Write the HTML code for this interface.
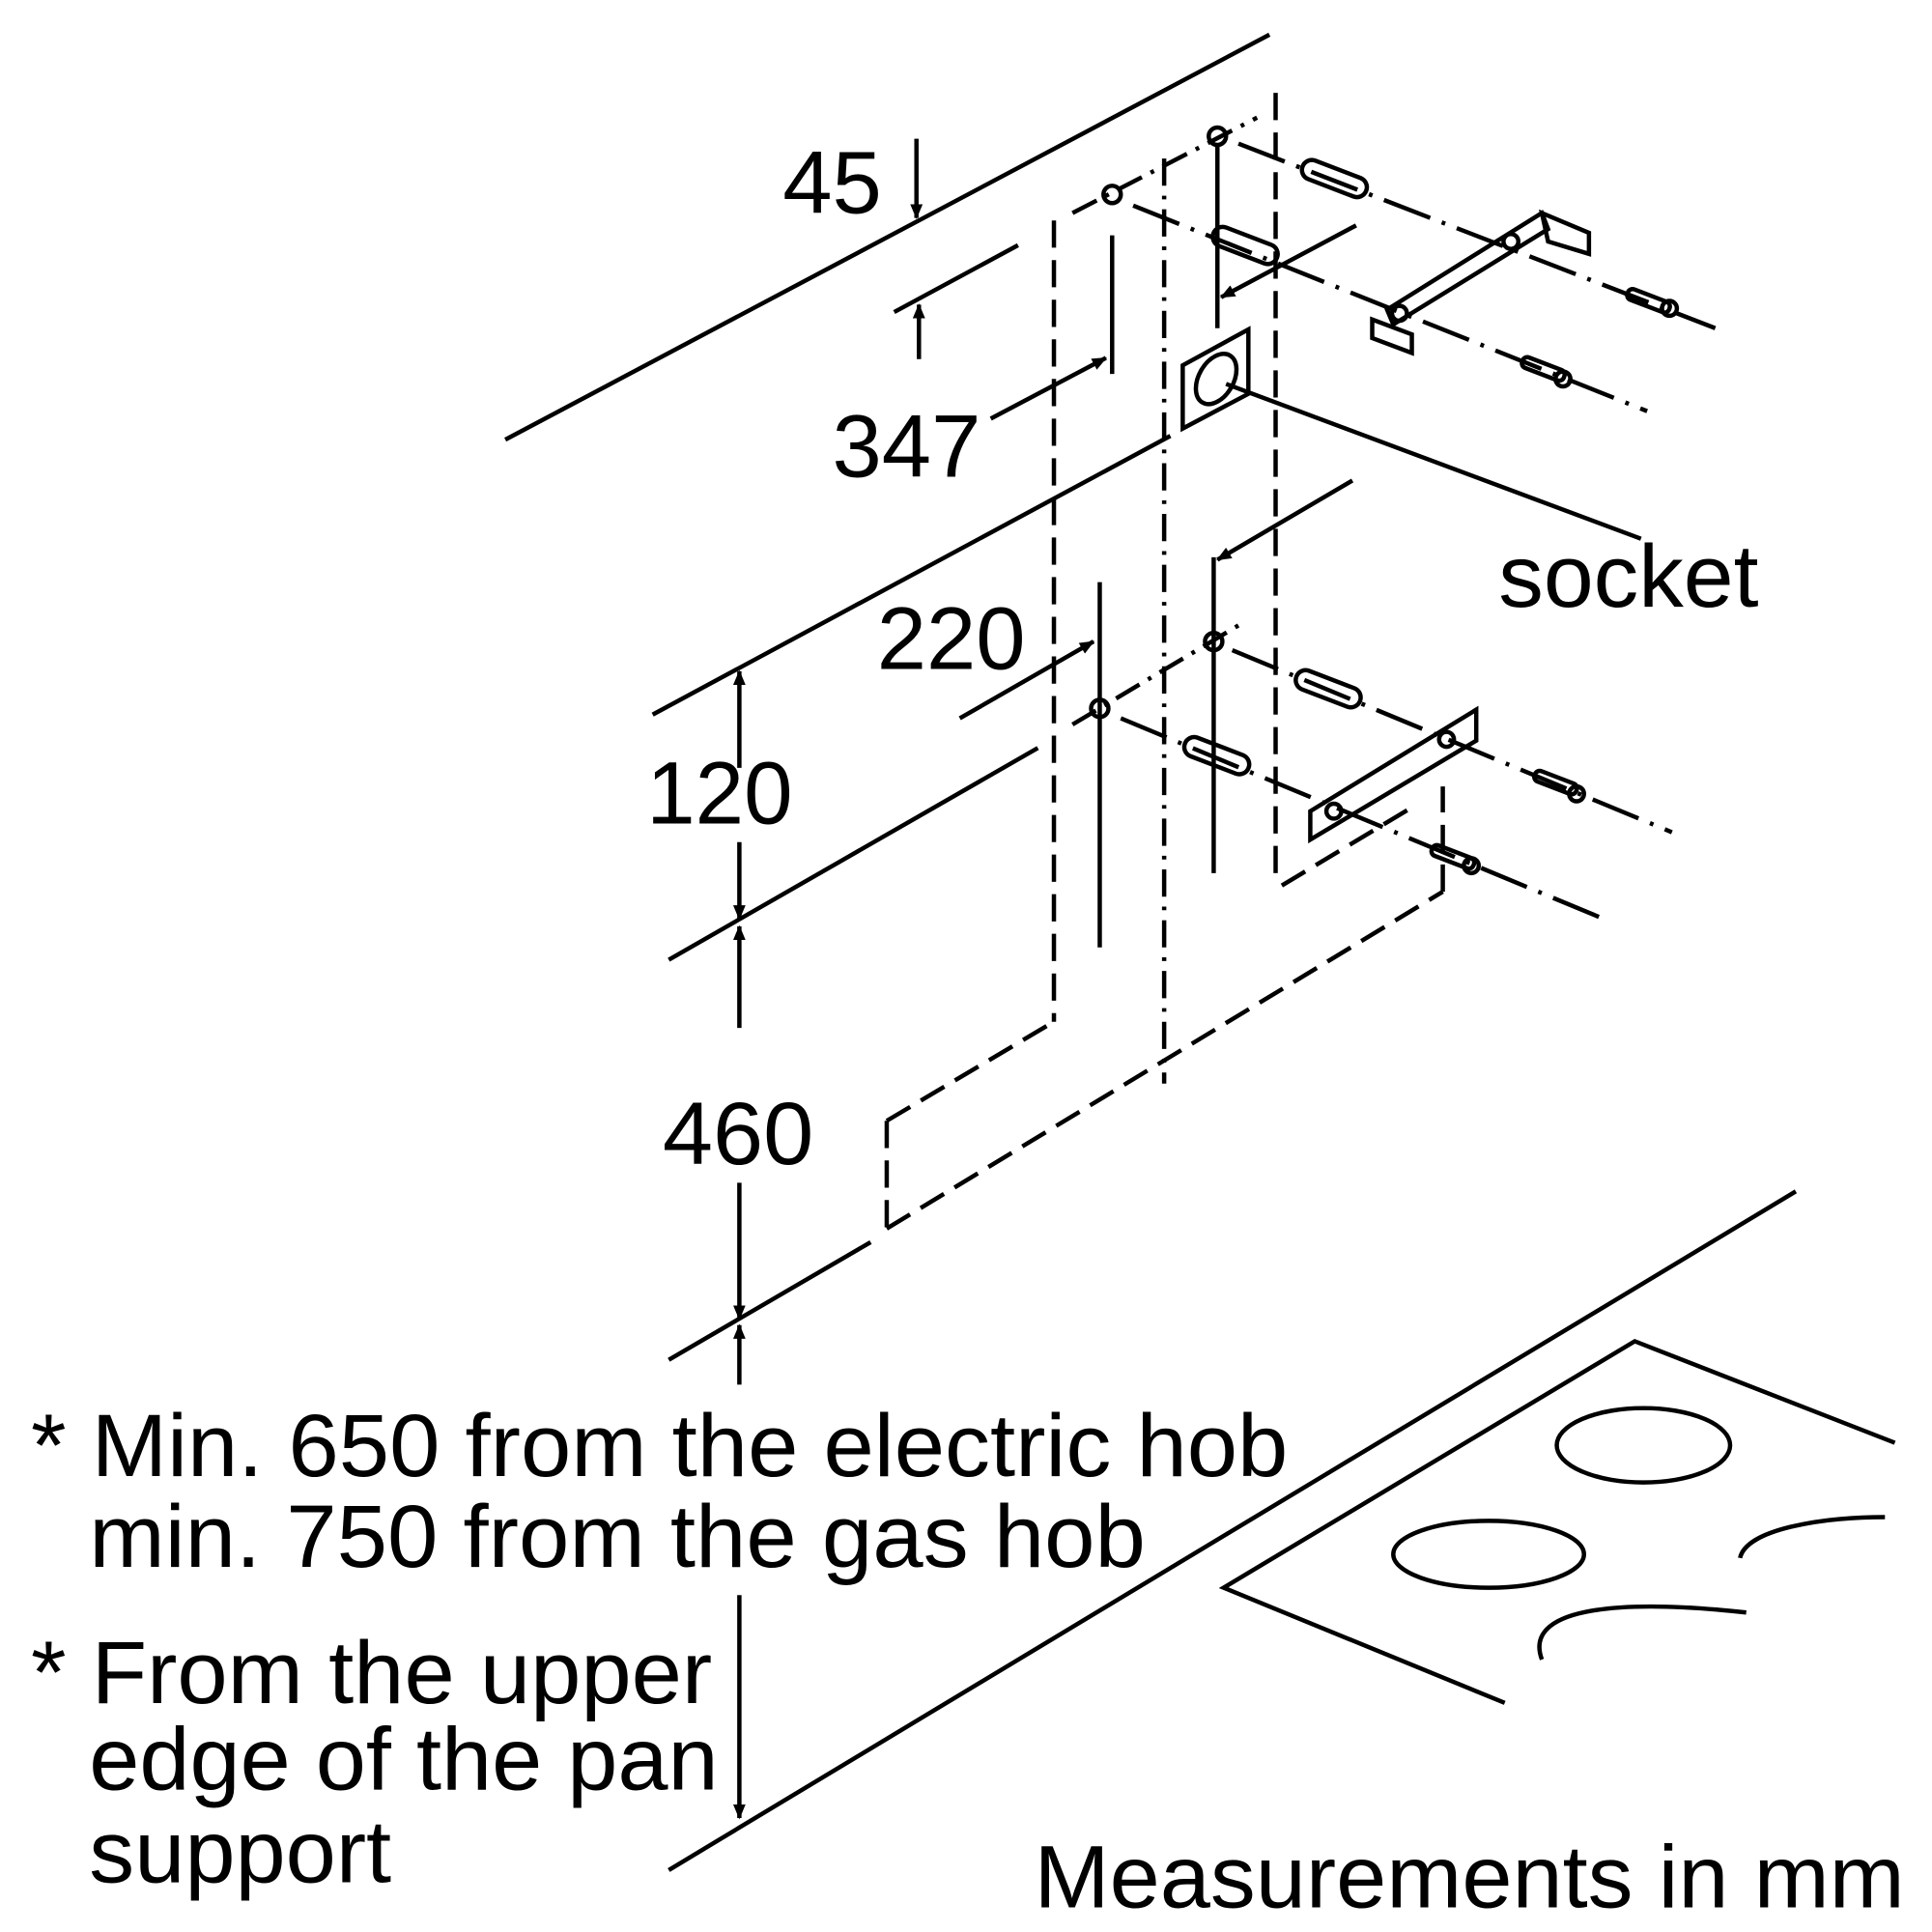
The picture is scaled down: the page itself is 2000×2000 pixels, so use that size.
<!DOCTYPE html>
<html><head><meta charset="utf-8"><style>
html,body{margin:0;padding:0;background:#fff;}
svg{display:block;}
text{font-family:"Liberation Sans",Arial,sans-serif;fill:#000;}
</style></head><body>
<svg width="2000" height="2000" viewBox="0 0 1560 1560" xmlns="http://www.w3.org/2000/svg">
<defs>
<marker id="a" markerWidth="12" markerHeight="12" refX="11" refY="6" orient="auto" markerUnits="userSpaceOnUse"><path d="M0,1 L12,6 L0,11 z" fill="#000"/></marker>
</defs>
<g stroke="#000" stroke-width="3.5" fill="none">
<line x1="408" y1="355" x2="1025" y2="28"/>
<line x1="740" y1="112" x2="740" y2="176" marker-end="url(#a)"/>
<line x1="722" y1="252" x2="822" y2="198"/>
<line x1="742" y1="290" x2="742" y2="246" marker-end="url(#a)"/>
<line x1="800" y1="338" x2="893" y2="289" marker-end="url(#a)"/>
<line x1="898" y1="190" x2="898" y2="302"/>
<line x1="851" y1="178" x2="851" y2="825" stroke-dasharray="22,10"/>
<line x1="940" y1="128" x2="940" y2="875" stroke-dasharray="22,8,3,8"/>
<line x1="1030" y1="75" x2="1030" y2="710" stroke-dasharray="22,10"/>
<line x1="866" y1="172" x2="1015" y2="95" stroke-dasharray="22,8,3,8"/>
<circle cx="898" cy="157" r="7"/><circle cx="983" cy="110" r="7"/>
<line x1="983" y1="118" x2="983" y2="265"/>
<line x1="1095" y1="182" x2="986" y2="240" marker-end="url(#a)"/>
<line x1="1000" y1="116" x2="1385" y2="265" stroke-dasharray="40,10,3,10"/>
<line x1="915" y1="166" x2="1330" y2="332" stroke-dasharray="40,10,3,10"/>
<rect x="1050" y="136" width="55" height="16" rx="8" transform="rotate(21 1077 144)"/>
<rect x="978" y="190" width="55" height="16" rx="8" transform="rotate(21 1005 198)"/>
<rect x="1313" y="238" width="36" height="9" rx="4" transform="rotate(21 1330 243)"/>
<rect x="1228" y="293" width="36" height="9" rx="4" transform="rotate(21 1245 298)"/>
<circle cx="1348" cy="249" r="6"/><circle cx="1262" cy="306" r="6"/>
<polygon points="1120,250 1245,172 1250,185 1125,262"/>
<polygon points="1245,172 1283,188 1283,205 1250,195"/>
<polygon points="1108,258 1140,270 1140,285 1108,273"/>
<circle cx="1220" cy="195" r="6"/><circle cx="1130" cy="253" r="6"/>
<polygon points="955,295 1008,266 1008,318 955,346"/>
<ellipse cx="982" cy="306" rx="14" ry="22" transform="rotate(30 982 306)"/>
<line x1="990" y1="310" x2="1325" y2="435"/>
<line x1="527" y1="577" x2="945" y2="352"/>
<line x1="540" y1="775" x2="838" y2="604"/>
<line x1="540" y1="1098" x2="703" y2="1003"/>
<line x1="597" y1="620" x2="597" y2="542" marker-end="url(#a)"/>
<line x1="597" y1="680" x2="597" y2="742" marker-end="url(#a)"/>
<line x1="597" y1="830" x2="597" y2="748" marker-end="url(#a)"/>
<line x1="597" y1="955" x2="597" y2="1065" marker-end="url(#a)"/>
<line x1="597" y1="1118" x2="597" y2="1070" marker-end="url(#a)"/>
<line x1="597" y1="1288" x2="597" y2="1468" marker-end="url(#a)"/>
<line x1="775" y1="580" x2="883" y2="518" marker-end="url(#a)"/>
<line x1="888" y1="470" x2="888" y2="765"/>
<line x1="980" y1="450" x2="980" y2="705"/>
<line x1="1092" y1="388" x2="983" y2="452" marker-end="url(#a)"/>
<circle cx="980" cy="518" r="7"/><circle cx="888" cy="572" r="7"/>
<line x1="866" y1="585" x2="1000" y2="505" stroke-dasharray="22,8,3,8"/>
<line x1="995" y1="525" x2="1350" y2="672" stroke-dasharray="40,10,3,10"/>
<line x1="905" y1="580" x2="1295" y2="742" stroke-dasharray="40,10,3,10"/>
<rect x="1045" y="548" width="55" height="16" rx="8" transform="rotate(21 1072 556)"/>
<rect x="955" y="602" width="55" height="16" rx="8" transform="rotate(21 982 610)"/>
<rect x="1238" y="627" width="36" height="9" rx="4" transform="rotate(21 1255 632)"/>
<rect x="1155" y="687" width="36" height="9" rx="4" transform="rotate(21 1172 692)"/>
<circle cx="1273" cy="641" r="6"/><circle cx="1188" cy="699" r="6"/>
<polygon points="1058,655 1192,573 1192,598 1058,678"/>
<circle cx="1168" cy="597" r="6"/><circle cx="1077" cy="655" r="6"/>
<line x1="716" y1="905" x2="716" y2="995" stroke-dasharray="22,10"/>
<line x1="716" y1="905" x2="851" y2="825" stroke-dasharray="22,10"/>
<line x1="716" y1="992" x2="1165" y2="720" stroke-dasharray="22,10"/>
<line x1="1165" y1="720" x2="1165" y2="635" stroke-dasharray="22,10"/>
<line x1="1035" y1="715" x2="1140" y2="652" stroke-dasharray="22,10"/>
<line x1="540" y1="1510" x2="1450" y2="962"/>
<polyline points="1530,1165 1320,1083 988,1282 1215,1375"/>
<ellipse cx="1327" cy="1167" rx="70" ry="30"/>
<ellipse cx="1202" cy="1255" rx="77" ry="27"/>
<path d="M1405,1258 C1410,1235 1470,1225 1522,1225"/>
<path d="M1245,1340 C1230,1300 1300,1290 1410,1302"/>
</g>
<g font-size="72">
<text x="632" y="172" textLength="80" lengthAdjust="spacingAndGlyphs">45</text>
<text x="672" y="385" textLength="120" lengthAdjust="spacingAndGlyphs">347</text>
<text x="708" y="540" textLength="120" lengthAdjust="spacingAndGlyphs">220</text>
<text x="522" y="665" textLength="118" lengthAdjust="spacingAndGlyphs">120</text>
<text x="535" y="940" textLength="122" lengthAdjust="spacingAndGlyphs">460</text>
<text x="1210" y="490" textLength="210" lengthAdjust="spacingAndGlyphs">socket</text>
<text x="25" y="1192" textLength="1015" lengthAdjust="spacingAndGlyphs">* Min. 650 from the electric hob</text>
<text x="72" y="1265" textLength="853" lengthAdjust="spacingAndGlyphs">min. 750 from the gas hob</text>
<text x="25" y="1375" textLength="550" lengthAdjust="spacingAndGlyphs">* From the upper</text>
<text x="72" y="1445" textLength="508" lengthAdjust="spacingAndGlyphs">edge of the pan</text>
<text x="72" y="1520" textLength="244" lengthAdjust="spacingAndGlyphs">support</text>
<text x="835" y="1540" textLength="703" lengthAdjust="spacingAndGlyphs">Measurements in mm</text>
</g>
</svg>
</body></html>
